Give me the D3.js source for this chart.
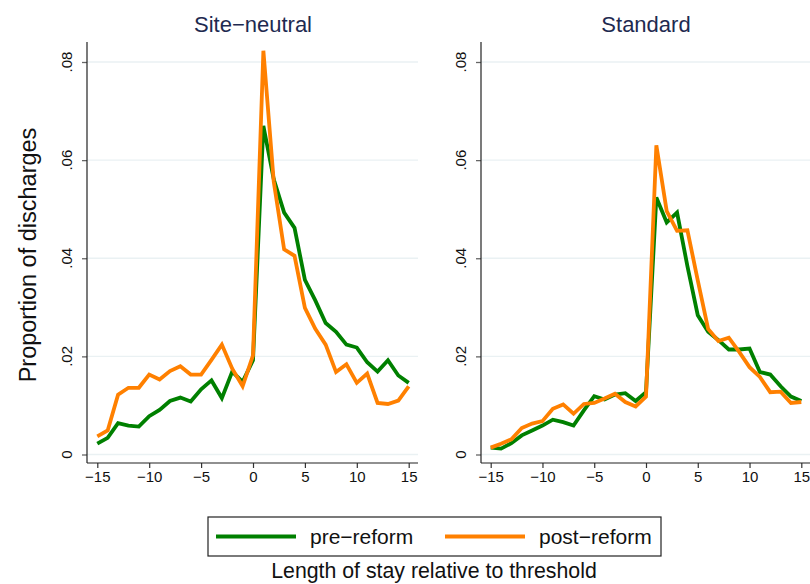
<!DOCTYPE html>
<html>
<head>
<meta charset="utf-8">
<script src="https://cdn.jsdelivr.net/npm/d3@7"></script>
<style>
  body { margin: 0; background: #fff; }
  svg { font-family: "Liberation Sans", Arial, sans-serif; }
</style>
</head>
<body>
<div id="chart"></div>
<script>
// length of stay relative to threshold
const days = d3.range(-15, 16);

// Site-neutral panel
const sitePre = [0.0022, 0.0034, 0.0064, 0.0059, 0.0057, 0.0078, 0.0091, 0.0109, 0.0116, 0.0108,
  0.0133, 0.0151, 0.0115, 0.0169, 0.0148, 0.0192, 0.0670, 0.0561, 0.0493, 0.0462,
  0.0356, 0.0314, 0.0268, 0.0250, 0.0224, 0.0218, 0.0188, 0.0169, 0.0192, 0.0161, 0.0146];
const sitePost = [0.0037, 0.0049, 0.0122, 0.0136, 0.0136, 0.0163, 0.0153, 0.0170, 0.0180, 0.0163,
  0.0163, 0.0193, 0.0224, 0.0175, 0.0139, 0.0202, 0.0823, 0.0556, 0.0418, 0.0405,
  0.0299, 0.0256, 0.0224, 0.0168, 0.0184, 0.0146, 0.0165, 0.0105, 0.0103, 0.0110, 0.0139];

// Standard panel
const stdPre = [0.0014, 0.0012, 0.0023, 0.0039, 0.0049, 0.0059, 0.0071, 0.0066, 0.0059, 0.0090,
  0.0119, 0.0112, 0.0122, 0.0125, 0.0109, 0.0127, 0.0524, 0.0473, 0.0493, 0.0384,
  0.0284, 0.0250, 0.0233, 0.0214, 0.0214, 0.0216, 0.0168, 0.0163, 0.0139, 0.0118, 0.0109];
const stdPost = [0.0014, 0.0022, 0.0031, 0.0054, 0.0063, 0.0068, 0.0093, 0.0102, 0.0083, 0.0103,
  0.0105, 0.0114, 0.0124, 0.0107, 0.0098, 0.0118, 0.0630, 0.0496, 0.0456, 0.0457,
  0.0355, 0.0256, 0.0231, 0.0238, 0.0209, 0.0178, 0.0158, 0.0127, 0.0128, 0.0105, 0.0107];

const xTicks = [-15, -10, -5, 0, 5, 10, 15];
const yTicks = [0, 0.02, 0.04, 0.06, 0.08];
const seriesNames = ["pre\u2212reform", "post\u2212reform"];
const colors = ["#008000", "#ff8000"];

const panels = [
  {title: "Site\u2212neutral", series: [sitePre, sitePost], left: 87, right: 418, x0: 97.3, x1: 408.7},
  {title: "Standard", series: [stdPre, stdPost], left: 481, right: 810, x0: 490.7, x1: 801.3}
];

const width = 810, height = 584;
const plotTop = 42, plotBottom = 463;

const svg = d3.select("#chart").append("svg")
  .attr("width", width)
  .attr("height", height);

const y = d3.scaleLinear().domain([0, 0.08]).range([454.5, 62]);
const fmtY = d => d === 0 ? "0" : d3.format(".2f")(d).replace(/^0/, "");
const fmtX = d => d < 0 ? "\u2212" + Math.abs(d) : String(d);

panels.forEach(p => {
  const x = d3.scaleLinear().domain([-15, 15]).range([p.x0, p.x1]);
  const g = svg.append("g");

  // grid
  g.append("g").selectAll("line")
    .data(yTicks)
    .join("line")
    .attr("x1", p.left).attr("x2", p.right)
    .attr("y1", d => y(d)).attr("y2", d => y(d))
    .attr("stroke", "#eaf1f3")
    .attr("stroke-width", 1.3);

  // y axis
  const ya = g.append("g")
    .attr("transform", `translate(${p.left},0)`)
    .call(d3.axisLeft(y).tickValues(yTicks).tickSize(5).tickFormat(""));
  ya.select(".domain").remove();
  ya.selectAll(".tick line").attr("stroke", "#666").attr("stroke-width", 1.3);
  g.append("line")
    .attr("x1", p.left).attr("x2", p.left)
    .attr("y1", plotTop).attr("y2", plotBottom)
    .attr("stroke", "#222").attr("stroke-width", 1.2);
  g.append("g").selectAll("text")
    .data(yTicks)
    .join("text")
    .attr("transform", d => `translate(${p.left - 15},${y(d)}) rotate(-90)`)
    .attr("text-anchor", "middle")
    .attr("font-size", 15)
    .attr("fill", "#111")
    .text(fmtY);

  // x axis
  const xa = g.append("g")
    .attr("transform", `translate(0,${plotBottom})`)
    .call(d3.axisBottom(x).tickValues(xTicks).tickSize(5).tickPadding(3).tickFormat(fmtX));
  xa.select(".domain").remove();
  xa.selectAll(".tick line").attr("stroke", "#333").attr("stroke-width", 1.2);
  xa.selectAll(".tick text").attr("font-size", 15).attr("fill", "#111")
    .attr("font-family", "Liberation Sans, Arial, sans-serif");
  g.append("line")
    .attr("x1", p.left).attr("x2", p.right)
    .attr("y1", plotBottom).attr("y2", plotBottom)
    .attr("stroke", "#222").attr("stroke-width", 1.2);

  // title
  g.append("text")
    .attr("x", (p.x0 + p.x1) / 2)
    .attr("y", 32)
    .attr("text-anchor", "middle")
    .attr("font-size", 22)
    .attr("fill", "#1e2a50")
    .text(p.title);

  // lines
  const line = d3.line().x((d, i) => x(days[i])).y(d => y(d));
  p.series.forEach((s, i) => {
    g.append("path")
      .datum(s)
      .attr("fill", "none")
      .attr("stroke", colors[i])
      .attr("stroke-width", 3.8)
      .attr("stroke-linejoin", "miter")
      .attr("d", line);
  });
});

// y axis title
svg.append("text")
  .attr("transform", "translate(36,255) rotate(-90)")
  .attr("text-anchor", "middle")
  .attr("font-size", 23.5)
  .attr("fill", "#111")
  .text("Proportion of discharges");

// legend
const lg = svg.append("g");
lg.append("rect")
  .attr("x", 208).attr("y", 517)
  .attr("width", 453).attr("height", 39)
  .attr("fill", "#fff")
  .attr("stroke", "#222").attr("stroke-width", 1.2);
const legX = [216, 445];
seriesNames.forEach((name, i) => {
  lg.append("line")
    .attr("x1", legX[i]).attr("x2", legX[i] + 80)
    .attr("y1", 536.5).attr("y2", 536.5)
    .attr("stroke", colors[i]).attr("stroke-width", 4);
  lg.append("text")
    .attr("x", legX[i] + 94)
    .attr("y", 543.5)
    .attr("font-size", 21)
    .attr("fill", "#111")
    .text(name);
});

// x axis title
svg.append("text")
  .attr("x", 434)
  .attr("y", 578)
  .attr("text-anchor", "middle")
  .attr("font-size", 21.3)
  .attr("fill", "#111")
  .text("Length of stay relative to threshold");
</script>
</body>
</html>
